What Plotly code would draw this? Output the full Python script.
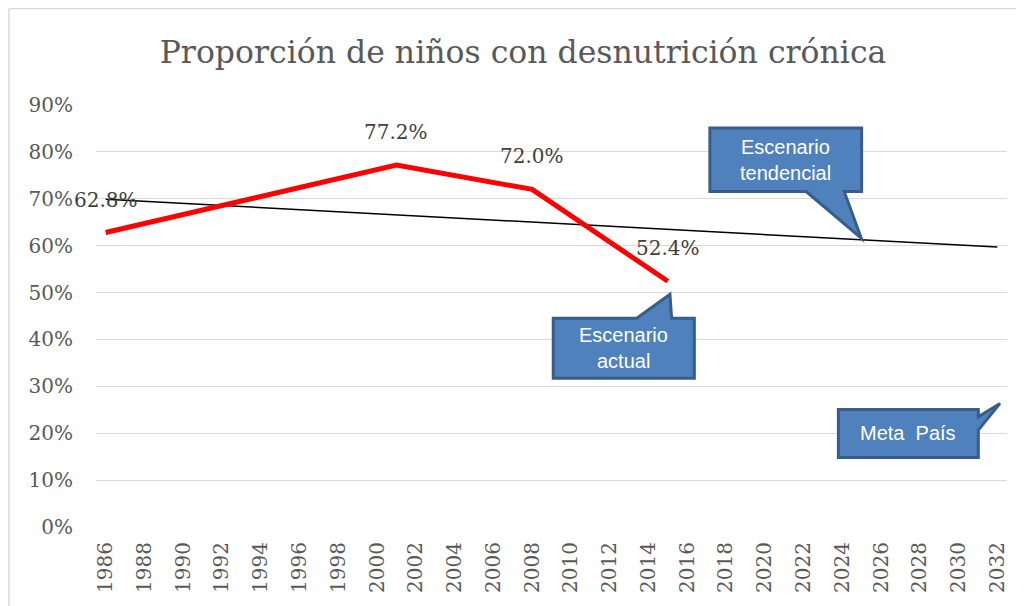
import plotly.graph_objects as go

# ---- data ----
tick_years = list(range(1986, 2033, 2))
actual_years = [1986, 2001, 2008, 2015]
actual_values = [0.628, 0.772, 0.720, 0.524]
actual_labels = ["62.8%", "77.2%", "72.0%", "52.4%"]
trend_years = [1986, 2032]
trend_values = [0.699, 0.597]
y_ticks = [0, 0.1, 0.2, 0.3, 0.4, 0.5, 0.6, 0.7, 0.8, 0.9]
y_tick_text = ["0%", "10%", "20%", "30%", "40%", "50%", "60%", "70%", "80%", "90%"]

TITLE = "Proporción de niños con desnutrición crónica"
SERIF = "DejaVu Serif, Liberation Serif, serif"
CALLOUT_FONT = "Liberation Sans, Arial, sans-serif"
FILL = "#4F81BD"
EDGE = "#385D8A"

# page body has an 8px default margin; figure is sized to fit the window
W, H = 1016, 598
PL, PT, PW, PH = 88, 97.3, 911, 421.4

fig = go.Figure()

fig.add_trace(go.Scatter(x=trend_years, y=trend_values, mode="lines",
                         line=dict(color="black", width=1.5), hoverinfo="skip",
                         showlegend=False))
fig.add_trace(go.Scatter(x=actual_years, y=actual_values, mode="lines",
                         line=dict(color="#FF0000", width=5), showlegend=False))

for xv, yv, t in zip(actual_years, actual_values, actual_labels):
    fig.add_annotation(x=xv, y=yv, text=t, showarrow=False, yshift=33,
                       font=dict(family=SERIF, size=20, color="#404040"))

# callouts: box extents, pointer outline, text lines
callouts = [
    dict(box=(2017.17, 2025.0, 0.7155, 0.851),
         path=[(2017.17, 0.7155), (2022.14, 0.7155), (2024.98, 0.616), (2024.10, 0.7155),
               (2025.0, 0.7155), (2025.0, 0.851), (2017.17, 0.851)],
         lines=["Escenario", "tendencial"]),
    dict(box=(2009.09, 2016.37, 0.317, 0.4451),
         path=[(2009.09, 0.317), (2016.37, 0.317), (2016.37, 0.4451), (2015.20, 0.4451),
               (2015.11, 0.4964), (2013.40, 0.4451), (2009.09, 0.4451)],
         lines=["Escenario", "actual"]),
    dict(box=(2023.80, 2031.02, 0.1482, 0.2507),
         path=[(2023.80, 0.1482), (2031.02, 0.1482), (2031.02, 0.2065), (2032.14, 0.2636),
               (2031.02, 0.2349), (2031.02, 0.2507), (2023.80, 0.2507)],
         lines=["Meta  País"]),
]

for c in callouts:
    p = "M " + " L ".join(f"{x},{y}" for x, y in c["path"]) + " Z"
    fig.add_shape(type="path", path=p, xref="x", yref="y",
                  fillcolor=FILL, line=dict(color=EDGE, width=3), layer="above")
    x0, x1, y0, y1 = c["box"]
    n = len(c["lines"])
    cy = (y0 + y1) / 2
    step = 0.056
    for i, line in enumerate(c["lines"]):
        yy = cy + (n - 1) * step / 2 - i * step
        fig.add_annotation(x=(x0 + x1) / 2, y=yy, text=line, showarrow=False,
                           xref="x", yref="y",
                           font=dict(family=CALLOUT_FONT, size=20, color="white"))

# outer chart border (top and left)
bx = (9 - 96) / PW
by = (526.7 - 9) / PH
fig.add_shape(type="line", xref="paper", yref="paper",
              x0=bx, x1=(1040 - 96) / PW, y0=by, y1=by,
              line=dict(color="#D9D9D9", width=1.5))
fig.add_shape(type="line", xref="paper", yref="paper",
              x0=bx, x1=bx, y0=by, y1=(526.7 - 640) / PH,
              line=dict(color="#D9D9D9", width=1.5))

fig.update_layout(
    width=W, height=H,
    margin=dict(l=PL, r=W - PL - PW, t=PT, b=H - PT - PH, autoexpand=False),
    paper_bgcolor="white", plot_bgcolor="white",
    title=dict(text=TITLE, x=515 / W, xanchor="center", xref="container",
               y=1 - 44 / H, yanchor="middle", yref="container",
               font=dict(family=SERIF, size=31.5, color="#595959")),
    xaxis=dict(range=[1985.5, 2032.5], tickmode="array", tickvals=tick_years,
               ticktext=[str(y) for y in tick_years], tickangle=-90,
               showgrid=False, zeroline=False, showline=False, ticks="",
               ticklabelstandoff=10, automargin=False,
               tickfont=dict(family=SERIF, size=20, color="#595959")),
    yaxis=dict(range=[0, 0.9], tickmode="array", tickvals=y_ticks, ticktext=y_tick_text,
               showgrid=True, gridcolor="#D9D9D9", gridwidth=1.3, zeroline=False,
               showline=False, ticks="", ticklabelstandoff=22, automargin=False,
               tickfont=dict(family=SERIF, size=20, color="#595959")),
)

fig.write_html("out.html")
